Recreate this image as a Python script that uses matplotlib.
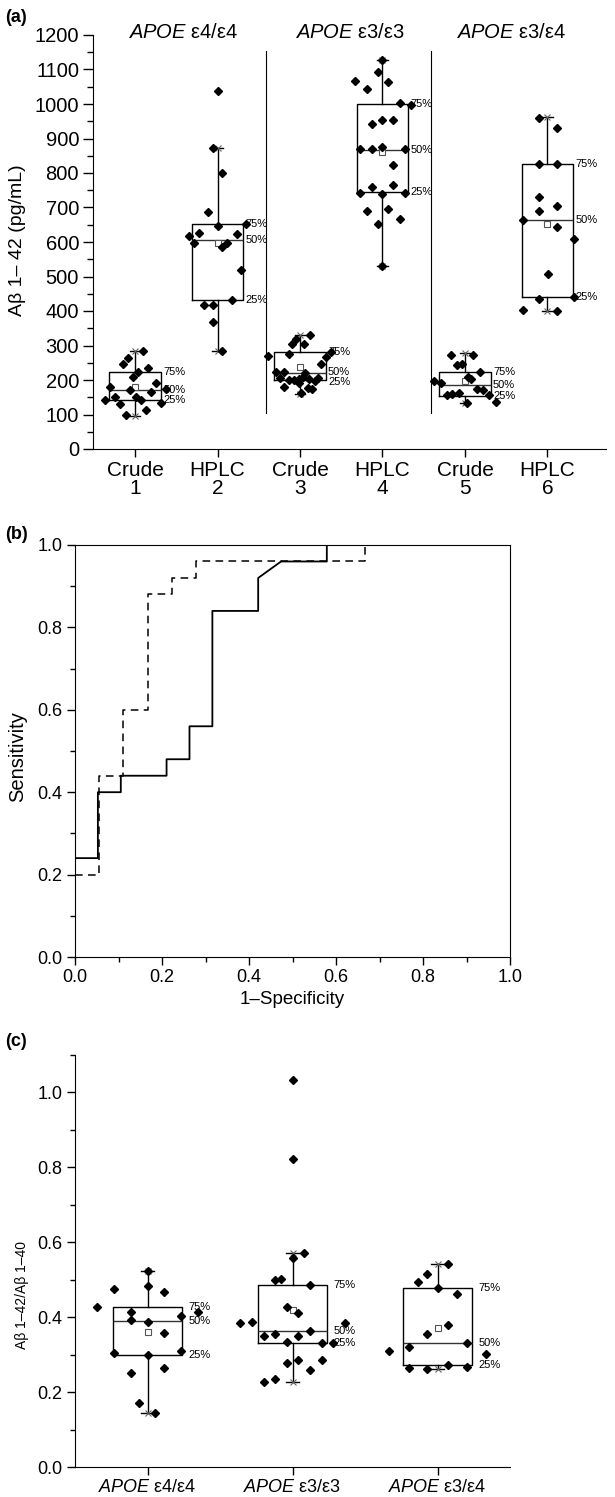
import matplotlib
matplotlib.use('Agg')
import matplotlib.pyplot as plt
from matplotlib.ticker import MultipleLocator, FormatStrFormatter

plt.rcParams['font.family'] = ['Liberation Sans', 'DejaVu Sans']
plt.rcParams['mathtext.fontset'] = 'custom'
plt.rcParams['mathtext.it'] = 'Liberation Sans:italic'
plt.rcParams['mathtext.rm'] = 'Liberation Sans'

# ---------------- Panel (a) data ----------------
a_positions = [1, 2, 3, 4, 5, 6]
a_ticklabels = ['Crude\n1', 'HPLC\n2', 'Crude\n3', 'HPLC\n4', 'Crude\n5', 'HPLC\n6']
a_group_titles = [r'$\mathit{APOE}$ ε4/ε4', r'$\mathit{APOE}$ ε3/ε3', r'$\mathit{APOE}$ ε3/ε4']
a_title_x = [1.58, 3.6, 5.56]

crude1_offsets = [0.10, -0.085, -0.145, 0.16, 0.035, -0.025, -0.30, 0.25, 0.375, -0.24,
                  -0.06, 0.01, 0.19, -0.36, -0.18, 0.07, 0.31, -0.11, 0.13]
crude1_values = [285, 263, 245, 236, 223, 210, 180, 192, 174, 151,
                 171, 151, 164, 141, 129, 141, 134, 98, 113]

hplc2_offsets = [0.0, -0.06, 0.06, -0.11, 0.0, 0.35, -0.23, -0.35, 0.23, -0.28,
                 0.12, 0.06, 0.29, 0.18, -0.17, -0.06, -0.05, 0.06]
hplc2_values = [1038, 873, 801, 688, 647, 653, 627, 617, 622, 598,
                597, 586, 520, 433, 418, 417, 367, 283]

crude3_offsets = [0.12, -0.05, -0.10, 0.05, -0.39, -0.13, 0.32, 0.38, 0.25, -0.29,
                  -0.19, 0.06, -0.24, -0.13, -0.07, -0.01, 0.04, 0.11, 0.18, 0.22,
                  -0.19, -0.01, 0.10, 0.01, 0.15]
crude3_values = [330, 318, 305, 304, 270, 274, 266, 280, 246, 224,
                 222, 219, 205, 200, 200, 202, 210, 202, 196, 205,
                 180, 190, 178, 163, 175]

hplc4_offsets = [0.0, -0.06, -0.33, 0.07, -0.19, 0.21, 0.34, -0.13, 0.0, 0.13,
                 -0.27, -0.13, 0.0, 0.27, 0.13, 0.13, -0.13, -0.27, 0.0, 0.27,
                 -0.19, 0.07, 0.21, -0.06, 0.0]
hplc4_values = [1128, 1093, 1066, 1065, 1043, 1002, 998, 942, 953, 954,
                869, 869, 875, 869, 822, 765, 758, 743, 740, 743,
                691, 696, 667, 651, 531]

crude5_offsets = [-0.17, 0.10, -0.10, -0.04, 0.18, 0.04, 0.07, -0.38, -0.29, 0.15,
                  0.22, -0.22, -0.16, -0.07, 0.29, 0.02, 0.38]
crude5_values = [273, 273, 243, 246, 223, 210, 203, 198, 190, 173,
                 171, 156, 159, 163, 157, 134, 135]

hplc6_offsets = [-0.10, 0.11, -0.10, 0.11, -0.10, -0.10, 0.11, -0.30, 0.11, 0.32,
                 0.01, -0.10, 0.32, -0.30, 0.11]
hplc6_values = [960, 929, 826, 826, 729, 689, 703, 665, 643, 608,
                507, 436, 441, 402, 400]

a_offsets = [crude1_offsets, hplc2_offsets, crude3_offsets, hplc4_offsets, crude5_offsets, hplc6_offsets]
a_values = [crude1_values, hplc2_values, crude3_values, hplc4_values, crude5_values, hplc6_values]

a_q1 = [142, 433, 200, 745, 154, 441]
a_med = [171, 606, 220, 868, 186, 665]
a_q3 = [223, 653, 281, 1000, 223, 826]
a_whislo = [97, 283, 160, 531, 134, 400]
a_whishi = [284, 873, 330, 1128, 277, 962]
a_mean = [180, 598, 238, 860, 197, 652]

# ---------------- Panel (b) data ----------------
roc_solid_fpr = [0.0, 0.0526, 0.0526, 0.1053, 0.1053, 0.2105, 0.2105, 0.2632, 0.2632,
                 0.3158, 0.3158, 0.4211, 0.4211, 0.4737, 0.5789, 0.5789, 1.0]
roc_solid_tpr = [0.24, 0.24, 0.40, 0.40, 0.44, 0.44, 0.48, 0.48, 0.56,
                 0.56, 0.84, 0.84, 0.92, 0.96, 0.96, 1.0, 1.0]
roc_dash_fpr = [0.0, 0.0556, 0.0556, 0.1111, 0.1111, 0.1667, 0.1667, 0.2222, 0.2222,
                0.2778, 0.2778, 0.6667, 0.6667, 1.0]
roc_dash_tpr = [0.20, 0.20, 0.44, 0.44, 0.60, 0.60, 0.88, 0.88, 0.92,
                0.92, 0.96, 0.96, 1.0, 1.0]

# ---------------- Panel (c) data ----------------
c_positions = [1, 2, 3]
c_ticklabels = [r'$\mathit{APOE}$ ε4/ε4', r'$\mathit{APOE}$ ε3/ε3', r'$\mathit{APOE}$ ε3/ε4']

c_e44_offsets = [-0.345, -0.23, 0.0, 0.0, 0.113, -0.115, 0.345, -0.115, 0.0, 0.228,
                 0.113, -0.23, 0.228, 0.0, -0.115, 0.113, -0.057, 0.055]
c_e44_values = [0.426, 0.475, 0.523, 0.482, 0.467, 0.415, 0.415, 0.393, 0.386, 0.404,
                0.359, 0.305, 0.310, 0.299, 0.252, 0.265, 0.170, 0.145]

c_e33_offsets = [0.0, 0.0, 0.0, 0.078, -0.12, -0.08, 0.12, -0.04, 0.04, -0.36,
                 -0.28, 0.36, -0.2, -0.12, 0.04, 0.12, -0.04, 0.2, 0.28, -0.04,
                 0.04, 0.2, 0.12, -0.2, -0.12]
c_e33_values = [1.034, 0.821, 0.557, 0.571, 0.498, 0.502, 0.486, 0.426, 0.411, 0.384,
                0.388, 0.384, 0.350, 0.354, 0.350, 0.363, 0.335, 0.330, 0.330, 0.277,
                0.286, 0.286, 0.258, 0.228, 0.235]

c_e34_offsets = [0.07, -0.07, -0.133, 0.0, 0.136, 0.07, -0.07, -0.336, -0.2, 0.2,
                 0.336, -0.2, -0.07, 0.07, 0.2]
c_e34_values = [0.541, 0.515, 0.494, 0.478, 0.462, 0.379, 0.355, 0.311, 0.321, 0.330,
                0.302, 0.263, 0.261, 0.272, 0.266]

c_offsets = [c_e44_offsets, c_e33_offsets, c_e34_offsets]
c_values = [c_e44_values, c_e33_values, c_e34_values]

c_q1 = [0.299, 0.330, 0.272]
c_med = [0.390, 0.363, 0.330]
c_q3 = [0.426, 0.485, 0.478]
c_whislo = [0.145, 0.228, 0.261]
c_whishi = [0.523, 0.571, 0.541]
c_mean = [0.360, 0.418, 0.371]

# ---------------- Figure ----------------
W, H = 615, 1497
fig = plt.figure(figsize=(W / 100, H / 100), dpi=100)


def axes_px(left, top, right, bottom):
    return fig.add_axes([left / W, 1 - bottom / H, (right - left) / W, (bottom - top) / H])


def draw_boxes(ax, positions, q1, med, q3, wlo, whi, mean, width, offsets, values,
               lbl_dx, lbl_fs, ms, min_gap_px=10):
    stats = []
    for i in range(len(positions)):
        stats.append(dict(q1=q1[i], med=med[i], q3=q3[i], whislo=wlo[i], whishi=whi[i],
                          mean=mean[i], fliers=[]))
    ax.bxp(stats, positions=positions, widths=width, showmeans=True, showfliers=False,
           capwidths=width * 0.2,
           boxprops=dict(color='black', linewidth=1.0),
           whiskerprops=dict(color='black', linewidth=1.0),
           capprops=dict(color='black', linewidth=1.0),
           medianprops=dict(color='#333333', linewidth=1.0),
           meanprops=dict(marker='s', markerfacecolor='white', markeredgecolor='#555555',
                          markersize=4, markeredgewidth=0.8))
    ax.plot(positions, wlo, linestyle='none', marker='x', color='#666666', markersize=4, markeredgewidth=0.8)
    ax.plot(positions, whi, linestyle='none', marker='x', color='#666666', markersize=4, markeredgewidth=0.8)
    fig.canvas.draw()
    to_px = ax.transData.transform
    for i, p in enumerate(positions):
        xs = [p + o for o in offsets[i]]
        ax.plot(xs, values[i], linestyle='none', marker='D', color='black', markersize=ms, zorder=5)
        xl = p + width / 2 + lbl_dx
        # pixel gaps between the label levels, to nudge apart labels that would collide
        gap_lo = to_px((0, med[i]))[1] - to_px((0, q1[i]))[1]
        gap_hi = to_px((0, q3[i]))[1] - to_px((0, med[i]))[1]
        d_lo = max(0.0, (min_gap_px - gap_lo) / 2) * 0.72
        d_hi = max(0.0, (min_gap_px - gap_hi) / 2) * 0.72
        ax.annotate('75%', (xl, q3[i]), xytext=(0, d_hi), textcoords='offset points',
                    fontsize=lbl_fs, va='center', ha='left')
        ax.annotate('50%', (xl, med[i]), xytext=(0, d_lo - d_hi), textcoords='offset points',
                    fontsize=lbl_fs, va='center', ha='left')
        ax.annotate('25%', (xl, q1[i]), xytext=(0, -d_lo), textcoords='offset points',
                    fontsize=lbl_fs, va='center', ha='left')


# ---------- (a) ----------
axA = axes_px(93, 35, 606, 449)
axA.set_xlim(0.49, 6.71)
axA.set_ylim(0, 1200)
draw_boxes(axA, a_positions, a_q1, a_med, a_q3, a_whislo, a_whishi, a_mean, 0.62,
           a_offsets, a_values, 0.03, 8, 3.6)
axA.set_xlim(0.49, 6.71)
axA.set_ylim(0, 1200)
axA.spines['top'].set_visible(False)
axA.spines['right'].set_visible(False)
axA.yaxis.set_major_locator(MultipleLocator(100))
axA.yaxis.set_minor_locator(MultipleLocator(50))
axA.set_xticks(a_positions)
axA.set_xticklabels(a_ticklabels, fontsize=15, linespacing=0.92)
axA.tick_params(axis='y', labelsize=14.5, direction='out', length=7, width=1, pad=3)
axA.tick_params(axis='y', which='minor', direction='out', length=4, width=1)
axA.tick_params(axis='x', direction='out', length=6, width=1, pad=3)
for sep in [2.59, 4.59]:
    axA.plot([sep, sep], [105, 1155], color='black', linewidth=0.8)
for tx, tt in zip(a_title_x, a_group_titles):
    axA.text(tx, 1208, tt, fontsize=14.5, ha='center', va='center', clip_on=False)
fig.text(18 / W, 1 - 240 / H, 'Aβ 1– 42 (pg/mL)', rotation=90, fontsize=14, ha='center', va='center')
fig.text(5 / W, 1 - 17 / H, '(a)', fontsize=13, fontweight='bold', ha='left', va='center')

# ---------- (b) ----------
axB = axes_px(75, 545, 510, 957)
axB.plot(roc_solid_fpr, roc_solid_tpr, color='black', linewidth=1.3)
axB.plot(roc_dash_fpr, roc_dash_tpr, color='black', linewidth=1.1, dashes=(5, 3.5))
axB.set_xlim(0, 1)
axB.set_ylim(0, 1)
axB.xaxis.set_major_locator(MultipleLocator(0.2))
axB.xaxis.set_minor_locator(MultipleLocator(0.1))
axB.yaxis.set_major_locator(MultipleLocator(0.2))
axB.yaxis.set_minor_locator(MultipleLocator(0.1))
axB.xaxis.set_major_formatter(FormatStrFormatter('%.1f'))
axB.yaxis.set_major_formatter(FormatStrFormatter('%.1f'))
axB.tick_params(which='major', direction='out', length=6, width=1, labelsize=13, pad=3)
axB.tick_params(which='minor', direction='out', length=3.5, width=1)
axB.set_xlabel('1–Specificity', fontsize=13.5, labelpad=3)
fig.text(18 / W, 1 - 757 / H, 'Sensitivity', rotation=90, fontsize=14.5, ha='center', va='center')
fig.text(5 / W, 1 - 535 / H, '(b)', fontsize=13, fontweight='bold', ha='left', va='center')

# ---------- (c) ----------
axC = axes_px(75, 1055, 510, 1467)
axC.set_xlim(0.5, 3.5)
axC.set_ylim(0, 1.1)
draw_boxes(axC, c_positions, c_q1, c_med, c_q3, c_whislo, c_whishi, c_mean, 0.475,
           c_offsets, c_values, 0.045, 8, 3.6)
axC.set_xlim(0.5, 3.5)
axC.set_ylim(0, 1.1)
axC.spines['top'].set_visible(False)
axC.spines['right'].set_visible(False)
axC.yaxis.set_major_locator(MultipleLocator(0.2))
axC.yaxis.set_minor_locator(MultipleLocator(0.1))
axC.yaxis.set_major_formatter(FormatStrFormatter('%.1f'))
axC.set_xticks(c_positions)
axC.set_xticklabels(c_ticklabels, fontsize=13)
axC.tick_params(axis='y', labelsize=13, direction='out', length=6, width=1, pad=3)
axC.tick_params(axis='y', which='minor', direction='out', length=3.5, width=1)
axC.tick_params(axis='x', direction='out', length=6, width=1, pad=3)
fig.text(22 / W, 1 - 1295 / H, 'Aβ 1–42/Aβ 1–40', rotation=90, fontsize=10, ha='center', va='center')
fig.text(5 / W, 1 - 1042 / H, '(c)', fontsize=13, fontweight='bold', ha='left', va='center')

fig.savefig('out.png', dpi=100)
